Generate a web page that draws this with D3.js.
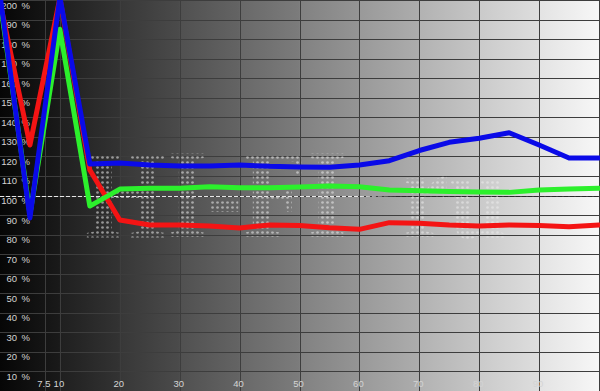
<!DOCTYPE html>
<html>
<head>
<meta charset="utf-8">
<script src="https://cdn.jsdelivr.net/npm/d3@7"></script>
<style>
  html, body { margin: 0; padding: 0; background: #000; }
  svg { display: block; }
</style>
</head>
<body>
<script>
// ---- data ----
const levels = [0, 5, 10, 15, 20, 25, 30, 35, 40, 45, 50, 55, 60, 65, 70, 75, 80, 85, 90, 95, 100];
const redValues   = [199, 125.8, 201, 113.0, 87.5, 84.9, 84.9, 84.4, 83.4, 84.9, 84.7, 83.5, 82.7, 86.1, 85.8, 84.9, 84.4, 84.9, 84.6, 84.0, 84.9];
const greenValues = [200, 90.5, 185.0, 94.6, 103.3, 103.7, 103.7, 104.5, 104.0, 104.0, 104.4, 104.9, 104.5, 102.8, 102.4, 102.0, 101.8, 101.6, 102.8, 103.3, 103.7];
const blueValues  = [202.5, 88.5, 201.5, 116.1, 116.6, 115.6, 115.1, 115.1, 115.6, 114.9, 114.6, 114.4, 115.6, 117.8, 123.0, 127.2, 129.3, 132.1, 125.8, 119.2, 119.2];
const xGridValues = [7.5, 10, 20, 30, 40, 50, 60, 70, 80, 90, 100];
const xTickLabels = ["7.5", "10", "20", "30", "40", "50", "60", "70", "80", "90"];
const yTickValues = [10, 20, 30, 40, 50, 60, 70, 80, 90, 100, 110, 120, 130, 140, 150, 160, 170, 180, 190, 200];
const referenceLevel = 100;
const watermarkMain = "HI-FI";
const watermarkSub = "ru";

const W = 600, H = 391;
const x = d3.scaleLinear().domain([0, 100]).range([0, 599]);
const y = d3.scaleLinear().domain([0, 200]).range([391, 0]);

const svg = d3.select("body").append("svg").attr("width", W).attr("height", H);
const defs = svg.append("defs");

// background: stepped grey gradient bands (one per 10 units)
const bands = d3.range(0, 100, 10);
bands.forEach((b, i) => {
  const g = defs.append("linearGradient").attr("id", "band" + i)
    .attr("x1", "0").attr("x2", "1").attr("y1", "0").attr("y2", "0");
  const s = 6 + 24.5 * i, e = s + 20;
  g.append("stop").attr("offset", "0").attr("stop-color", d3.rgb(s, s, s));
  g.append("stop").attr("offset", "1").attr("stop-color", d3.rgb(e, e, e));
});
svg.append("g").selectAll("rect").data(bands).join("rect")
  .attr("x", d => x(d)).attr("y", 0)
  .attr("width", d => x(d + 10) - x(d) + 0.5).attr("height", H)
  .attr("fill", (d, i) => `url(#band${i})`);

// grid
const grid = svg.append("g").attr("stroke", "#3d3d3d").attr("stroke-width", 1).attr("shape-rendering", "crispEdges");
grid.selectAll("line.v").data(xGridValues).join("line").attr("class", "v")
  .attr("x1", d => Math.round(x(d)) + 0.5).attr("x2", d => Math.round(x(d)) + 0.5)
  .attr("y1", 0).attr("y2", H);
grid.selectAll("line.h").data(yTickValues).join("line").attr("class", "h")
  .attr("x1", 0).attr("x2", W)
  .attr("y1", d => Math.round(y(d)) + 0.5).attr("y2", d => Math.round(y(d)) + 0.5);

// dotted watermark
const pat = defs.append("pattern").attr("id", "dots").attr("patternUnits", "userSpaceOnUse")
  .attr("width", 5).attr("height", 5);
pat.append("circle").attr("cx", 2.5).attr("cy", 2.5).attr("r", 1.35).attr("fill", "#ececec").attr("fill-opacity", 0.55);
const wm = svg.append("g").attr("font-family", "Liberation Serif, serif").attr("font-weight", "bold")
  .attr("font-size", 127).attr("fill", "url(#dots)");
wm.append("text").attr("x", 85).attr("y", 237).attr("textLength", 262)
  .attr("lengthAdjust", "spacingAndGlyphs").text(watermarkMain);
wm.append("text").attr("x", 402).attr("y", 237).attr("textLength", 105)
  .attr("lengthAdjust", "spacingAndGlyphs").text(watermarkSub);

// 100% reference dashed line
const refGrad = defs.append("linearGradient").attr("id", "refGrad").attr("gradientUnits", "userSpaceOnUse")
  .attr("x1", 0).attr("x2", W).attr("y1", 0).attr("y2", 0);
refGrad.append("stop").attr("offset", "0").attr("stop-color", "#e6e6e6");
refGrad.append("stop").attr("offset", "0.6").attr("stop-color", "#e6e6e6");
refGrad.append("stop").attr("offset", "0.66").attr("stop-color", "#2a2a2a");
refGrad.append("stop").attr("offset", "1").attr("stop-color", "#2a2a2a");
svg.append("line").attr("x1", 0).attr("x2", W)
  .attr("y1", Math.round(y(referenceLevel)) + 0.5).attr("y2", Math.round(y(referenceLevel)) + 0.5)
  .attr("stroke", "url(#refGrad)").attr("stroke-width", 1).attr("stroke-dasharray", "4,2")
  .attr("shape-rendering", "crispEdges");

// axis labels
const lab = svg.append("g").attr("font-family", "Liberation Sans, Arial, sans-serif")
  .attr("font-size", 9.5).attr("fill", "#d4d4d4");
lab.selectAll("text.num").data(yTickValues).join("text").attr("class", "num")
  .attr("x", 17).attr("y", d => y(d) + 8.5).attr("text-anchor", "end").text(d => d);
lab.selectAll("text.pct").data(yTickValues).join("text").attr("class", "pct")
  .attr("x", 21.5).attr("y", d => y(d) + 8.5).text("%");
lab.selectAll("text.xl").data(xTickLabels).join("text").attr("class", "xl")
  .attr("x", (d, i) => x(xGridValues[i]) - 1).attr("y", 387).attr("text-anchor", "middle").text(d => d);

// series lines
const series = [
  { values: redValues, color: "#f41414" },
  { values: greenValues, color: "#2cf02c" },
  { values: blueValues, color: "#0a0ae8" }
];
const line = d3.line().x(d => x(d[0])).y(d => y(d[1]));
svg.append("g").selectAll("path").data(series).join("path")
  .attr("d", s => line(levels.map((l, i) => [l, s.values[i]])))
  .attr("fill", "none").attr("stroke", s => s.color).attr("stroke-width", 5)
  .attr("stroke-linejoin", "round").attr("stroke-linecap", "round");
</script>
</body>
</html>
